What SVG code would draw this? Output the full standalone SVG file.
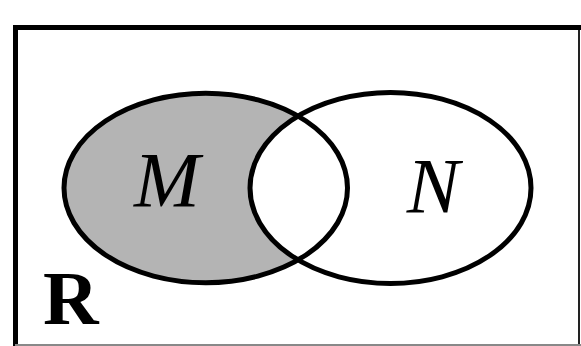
<svg xmlns="http://www.w3.org/2000/svg" width="581" height="346" viewBox="0 0 581 346">
<style>
.outline{fill:none;stroke:#000;stroke-width:5}
.lbl{font-family:'Liberation Serif','Times New Roman',Times,serif;font-style:italic;font-size:79px;fill:#000;text-anchor:middle}
.set{font-family:'Liberation Serif','Times New Roman',Times,serif;font-weight:bold;font-size:77px;fill:#000}
</style>
<rect x="0" y="0" width="581" height="346" fill="#fff"/>
<g id="universe">
<line x1="13" y1="27.5" x2="581" y2="27.5" stroke="#000" stroke-width="5"/>
<line x1="15.5" y1="25" x2="15.5" y2="346" stroke="#000" stroke-width="5"/>
<line x1="579" y1="30" x2="579" y2="346" stroke="#222" stroke-width="2"/>
<line x1="15" y1="345" x2="581" y2="345" stroke="#888" stroke-width="2"/>
<text class="set" x="43" y="324">R</text>
</g>
<g id="setM">
<ellipse cx="205.75" cy="188" rx="141.75" ry="94.7" fill="#b4b4b4"/>
</g>
<g id="setN">
<ellipse cx="390.5" cy="188" rx="140.5" ry="95.5" fill="#fff"/>
</g>
<g id="outlines">
<ellipse class="outline" cx="205.75" cy="188" rx="141.75" ry="94.7"/>
<ellipse class="outline" cx="390.5" cy="188" rx="140.5" ry="95.5"/>
</g>
<g id="labels">
<text class="lbl" x="167" y="206">M</text>
<text class="lbl" x="433" y="212">N</text>
</g>
</svg>
